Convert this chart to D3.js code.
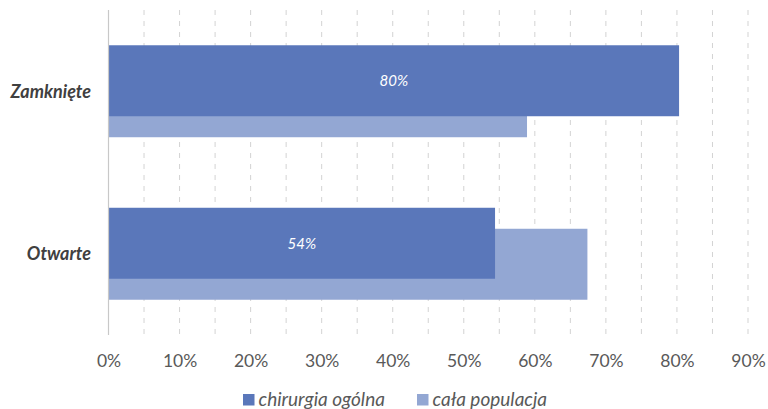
<!DOCTYPE html>
<html><head><meta charset="utf-8">
<script src="https://cdn.jsdelivr.net/npm/d3@7"></script>
<style>body{margin:0;background:#fff}svg{display:block;font-family:Lato,'Open Sans',sans-serif}</style>
</head><body><svg id="c" width="768" height="409"></svg>
<script>
const categories = ["Zamknięte", "Otwarte"];
const seriesNames = ["chirurgia ogólna", "cała populacja"];
const chirurgia = [80.3, 54.4];
const populacja = [58.9, 67.4];
const labels = ["80%", "54%"];
const ticks = [0,10,20,30,40,50,60,70,80,90];
const colors = ["#5a77ba", "#93a7d3"];

const svg = d3.select("#c");
const x = d3.scaleLinear().domain([0, 90]).range([108.5, 748]);
const y0 = d3.scaleBand().domain(categories).range([10, 335]).paddingInner(0.434).paddingOuter(0.217);
const offset = 21;
const y1 = d3.scalePoint().domain(seriesNames).range([0, offset]);
const bh = y0.bandwidth() - offset;

// gridlines
svg.append("g").selectAll("line").data(d3.range(5, 95, 5)).join("line")
  .attr("x1", d => x(d)).attr("x2", d => x(d)).attr("y1", 10).attr("y2", 335)
  .attr("stroke", "#d3d3d3").attr("stroke-width", 1).attr("stroke-dasharray", "5,6");

const data = categories.map((c, i) => ({c, vals: [chirurgia[i], populacja[i]], label: labels[i]}));
// light bars first (behind)
[1, 0].forEach(si => {
  svg.append("g").selectAll("rect").data(data).join("rect")
    .attr("x", x(0)).attr("y", d => y0(d.c) + y1(seriesNames[si]))
    .attr("width", d => x(d.vals[si]) - x(0)).attr("height", bh)
    .attr("fill", colors[si]);
});
// axis line
svg.append("line").attr("x1", x(0)).attr("x2", x(0)).attr("y1", 10).attr("y2", 335)
  .attr("stroke", "#c8c8c8").attr("stroke-width", 1.2);

// data labels
svg.append("g").selectAll("text").data(data).join("text")
  .attr("x", d => x(d.vals[0] / 2)).attr("y", d => y0(d.c) + bh / 2 + 5.5)
  .attr("text-anchor", "middle").attr("fill", "#fff").attr("font-style", "italic")
  .attr("font-size", 15).text(d => d.label);

// category labels
svg.append("g").selectAll("text").data(categories).join("text")
  .attr("x", 91).attr("y", d => y0(d) + y0.bandwidth() / 2 + 6.5)
  .attr("text-anchor", "end").attr("fill", "#404040").attr("font-style", "italic")
  .attr("font-weight", "bold").attr("font-size", 18).text(d => d);

// x tick labels
const xa = svg.append("g").attr("transform", "translate(0,367)")
  .call(d3.axisBottom(x).tickValues(ticks).tickFormat(d => d + "%").tickSize(0).tickPadding(0));
xa.select(".domain").remove();
xa.selectAll("text").attr("dy", 0).attr("fill", "#595959").attr("font-size", 17.5)
  .attr("font-family", "Lato,'Open Sans',sans-serif");

// legend
const leg = [{n: seriesNames[0], x: 243}, {n: seriesNames[1], x: 417}];
const lg = svg.append("g").selectAll("g").data(leg).join("g").attr("transform", d => `translate(${d.x},394)`);
lg.append("rect").attr("width", 11.5).attr("height", 11.5).attr("fill", (d, i) => colors[i]);
lg.append("text").attr("x", 15.5).attr("y", 11.8).attr("fill", "#595959").attr("font-style", "italic")
  .attr("font-size", 19).text(d => d.n);
</script></body></html>
